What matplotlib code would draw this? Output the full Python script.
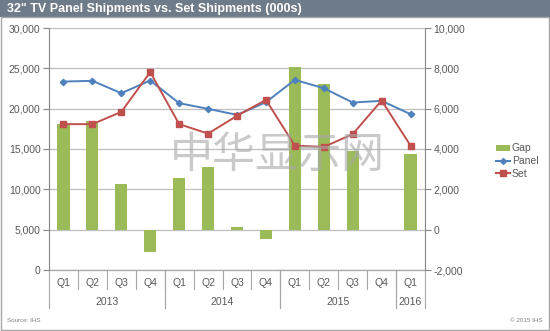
import matplotlib.pyplot as plt
from matplotlib.patches import Rectangle, Patch
from matplotlib.lines import Line2D

plt.rcParams['font.family'] = ['Liberation Sans', 'DejaVu Sans']

quarters = ['Q1', 'Q2', 'Q3', 'Q4', 'Q1', 'Q2', 'Q3', 'Q4', 'Q1', 'Q2', 'Q3', 'Q4', 'Q1']
years = ['2013', '2014', '2015', '2016']
year_spans = [(0, 3), (4, 7), (8, 11), (12, 12)]
panel = [23360, 23450, 21920, 23490, 20680, 19980, 19230, 20800, 23570, 22540, 20760, 20970, 19320]
set_ship = [18080, 18080, 19600, 24530, 18080, 16910, 19110, 21090, 15420, 15260, 16840, 21010, 15420]
gap = [5250, 5370, 2250, -1120, 2550, 3090, 150, -460, 8070, 7230, 3900, 0, 3760]

green = '#9BBB59'
blue = '#4F81BD'
red = '#C0504D'
txt = '#595959'
grid = '#BFBFBF'

fig = plt.figure(figsize=(5.5, 3.31), dpi=100)
W, H = 550, 331

def fx(px):
    return px / W

def fy(py):
    return 1 - py / H

# title bar + frame
fig.patches.append(Rectangle((0, fy(17)), 1, 17 / H, transform=fig.transFigure,
                             facecolor='#6E7B88', edgecolor='none', zorder=0))
fig.patches.append(Rectangle((0.001, 0.002), 0.997, fy(17) - 0.002, transform=fig.transFigure,
                             facecolor='none', edgecolor='#A6A6A6', lw=1, zorder=0))
fig.text(fx(7), fy(9), '32" TV Panel Shipments vs. Set Shipments (000s)', color='white',
         fontsize=9, fontweight='bold', va='center', ha='left')

ax = fig.add_axes([fx(49), fy(270), fx(425) - fx(49), (270 - 28) / H])
ax2 = ax.twinx()
x = list(range(len(quarters)))

# gap bars use right scale
ax.set_ylim(-2000, 10000)
ax.set_xlim(-0.5, 12.5)
for v in range(-2000, 10001, 2000):
    ax.axhline(v, color=grid, lw=0.9, zorder=0)
ax.bar(x, gap, width=0.42, color=green, zorder=2)
ax.set_xticks([])
for s in ['top', 'bottom', 'left']:
    ax.spines[s].set_visible(False)
ax.spines['right'].set_color('#868686')

ax2.set_ylim(0, 30000)
ax2.plot(x, panel, color=blue, lw=1.4, marker='D', markersize=3.2, zorder=3)
ax2.plot(x, set_ship, color=red, lw=1.4, marker='s', markersize=4.5, zorder=4)
for s in ['top', 'right', 'bottom']:
    ax2.spines[s].set_visible(False)
ax2.spines['left'].set_color('#868686')

# put the bar scale on the right and the line scale on the left
ax.yaxis.tick_right()
ax.yaxis.set_label_position('right')
ax.set_yticks(range(-2000, 10001, 2000))
ax.set_yticklabels([f'{v:,}' for v in range(-2000, 10001, 2000)])
ax.tick_params(axis='y', which='both', left=False, labelleft=False, right=True, labelright=True,
               colors='#868686', labelcolor=txt, labelsize=7.5, length=4, pad=2)
ax2.yaxis.tick_left()
ax2.set_yticks(range(0, 30001, 5000))
ax2.set_yticklabels([f'{v:,}' for v in range(0, 30001, 5000)])
ax2.tick_params(axis='y', which='both', right=False, labelright=False, left=True, labelleft=True,
                colors='#868686', labelcolor=txt, labelsize=7.5, length=4, pad=2)
ax2.set_xticks([])

# two-level category axis
tr = ax.get_xaxis_transform()
ax_h = 242.0
def ay(py):
    return (270 - py) / ax_h

for i, q in enumerate(quarters):
    ax.text(i, ay(283), q, transform=tr, ha='center', va='center', fontsize=7.5, color=txt)
for i in range(1, len(quarters)):
    ax.plot([i - 0.5, i - 0.5], [0, ay(289)], transform=tr, color='#A6A6A6', lw=0.8, clip_on=False)
for (a, b), yr in zip(year_spans, years):
    ax.text((a + b) / 2, ay(302), yr, transform=tr, ha='center', va='center', fontsize=7.5, color=txt)
    ax.plot([a - 0.5, a - 0.5], [0, ay(308)], transform=tr, color='#A6A6A6', lw=0.8, clip_on=False)
    ax.plot([b + 0.5, b + 0.5], [0, ay(308)], transform=tr, color='#A6A6A6', lw=0.8, clip_on=False)
ax.plot([-0.5, 12.5], [0, 0], transform=tr, color='#A6A6A6', lw=0.9, clip_on=False)

# legend
handles = [Patch(facecolor=green, edgecolor='none'),
           Line2D([], [], color=blue, lw=1.5, marker='D', markersize=3),
           Line2D([], [], color=red, lw=1.5, marker='s', markersize=4)]
fig.legend(handles, ['Gap', 'Panel', 'Set'], loc='center left', bbox_to_anchor=(fx(492), fy(161)),
           frameon=False, fontsize=7.5, handlelength=1.3, handleheight=0.5, handletextpad=0.2,
           labelspacing=0.25, labelcolor=txt, borderaxespad=0)

# watermark
fig.text(fx(277), fy(156), '中华显示网', fontsize=31, color='#A8A8A8', alpha=0.6,
         family=['Noto Sans CJK SC', 'DejaVu Sans'], ha='center', va='center', fontweight='medium')

fig.text(fx(7), fy(320), 'Source: IHS', fontsize=4.5, color='#7F7F7F', va='center')
fig.text(fx(543), fy(320), '© 2015 IHS', fontsize=4.5, color='#7F7F7F', va='center', ha='right')

fig.savefig('out.png', dpi=100)
